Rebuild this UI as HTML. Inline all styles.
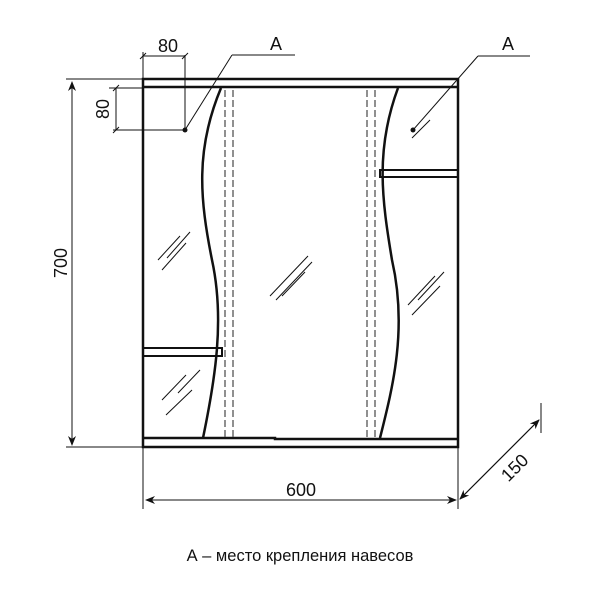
<!DOCTYPE html>
<html><head><meta charset="utf-8"><style>body{margin:0;background:#fff}svg{display:block}</style></head><body>
<svg width="600" height="606" viewBox="0 0 600 606" xmlns="http://www.w3.org/2000/svg" font-family="Liberation Sans, sans-serif" fill="none" stroke="#111">
<defs><marker id="ar" markerWidth="10" markerHeight="8" refX="9" refY="4" orient="auto" markerUnits="userSpaceOnUse"><path d="M0,0 L10,4 L0,8 L3,4 Z" fill="#111" stroke="none"/></marker></defs>
<rect x="143" y="79" width="315" height="368" stroke-width="2.5"/>
<line x1="143" y1="87" x2="458" y2="87" stroke-width="2.5"/>
<path d="M143 438 H275 V439 H458" stroke-width="2.5"/>
<rect x="143" y="348" width="79" height="8" stroke-width="2"/>
<rect x="380" y="170" width="78" height="7" stroke-width="2"/>
<path d="M221 88 C195 150 200 200 212 260 C225 320 215 380 203 438" stroke-width="2.5"/>
<path d="M398 88 C375 150 382 200 392 260 C408 330 392 390 380 438" stroke-width="2.5"/>
<g stroke="#555" stroke-width="1.3" stroke-dasharray="7,3">
<line x1="225" y1="90" x2="225" y2="437"/><line x1="233" y1="90" x2="233" y2="437"/>
<line x1="367" y1="90" x2="367" y2="437"/><line x1="375" y1="90" x2="375" y2="437"/>
</g>
<g stroke-width="1">
<line x1="158" y1="260" x2="180" y2="236"/><line x1="167" y1="258" x2="190" y2="232"/><line x1="162" y1="270" x2="186" y2="243"/>
<line x1="270" y1="296" x2="308" y2="256"/><line x1="276" y1="300" x2="312" y2="262"/><line x1="282" y1="296" x2="305" y2="272"/>
<line x1="408" y1="305" x2="435" y2="276"/><line x1="418" y1="300" x2="444" y2="272"/><line x1="412" y1="315" x2="440" y2="286"/>
<line x1="162" y1="400" x2="186" y2="375"/><line x1="178" y1="393" x2="200" y2="370"/><line x1="166" y1="415" x2="192" y2="390"/>
<line x1="412" y1="138" x2="430" y2="120"/>
</g>
<g stroke-width="1">
<line x1="185" y1="130" x2="232" y2="55"/><line x1="232" y1="55" x2="295" y2="55"/>
<line x1="413" y1="130" x2="478" y2="56"/><line x1="478" y1="56" x2="530" y2="56"/>
</g>
<circle cx="185" cy="130" r="2.5" fill="#111" stroke="none"/>
<circle cx="413" cy="130" r="2.5" fill="#111" stroke="none"/>
<g stroke-width="1">
<line x1="143" y1="56" x2="185" y2="56"/><line x1="185" y1="55" x2="185" y2="130"/><line x1="143" y1="52" x2="143" y2="79"/>
<line x1="140" y1="59" x2="146" y2="53"/><line x1="182" y1="59" x2="188" y2="53"/>
<line x1="116" y1="88" x2="116" y2="130"/><line x1="109" y1="88" x2="143" y2="88"/><line x1="113" y1="130" x2="185" y2="130"/>
<line x1="113" y1="91" x2="119" y2="85"/><line x1="113" y1="133" x2="119" y2="127"/>
<line x1="66" y1="79" x2="143" y2="79"/><line x1="66" y1="447" x2="143" y2="447"/>
<line x1="72" y1="445" x2="72" y2="82" marker-end="url(#ar)"/><line x1="72" y1="82" x2="72" y2="445" marker-end="url(#ar)"/>
<line x1="143" y1="447" x2="143" y2="509"/><line x1="458" y1="447" x2="458" y2="509"/>
<line x1="146" y1="500" x2="456" y2="500" marker-end="url(#ar)"/><line x1="456" y1="500" x2="146" y2="500" marker-end="url(#ar)"/>
<line x1="541" y1="403" x2="541" y2="433"/>
<line x1="460" y1="499" x2="539" y2="420" marker-end="url(#ar)"/><line x1="539" y1="420" x2="460" y2="499" marker-end="url(#ar)"/>
</g>
<g fill="#111" stroke="none" font-size="18">
<text x="168" y="52" text-anchor="middle">80</text>
<text x="276" y="50" text-anchor="middle">A</text>
<text x="508" y="50" text-anchor="middle">A</text>
<text x="301" y="496" text-anchor="middle">600</text>
<text transform="translate(109,109) rotate(-90)" text-anchor="middle">80</text>
<text transform="translate(67,263) rotate(-90)" text-anchor="middle">700</text>
<text transform="translate(519,472) rotate(-45)" text-anchor="middle">150</text>
<text x="300" y="561" text-anchor="middle" font-size="16.5">А – место крепления навесов</text>
</g>
</svg>
</body></html>
